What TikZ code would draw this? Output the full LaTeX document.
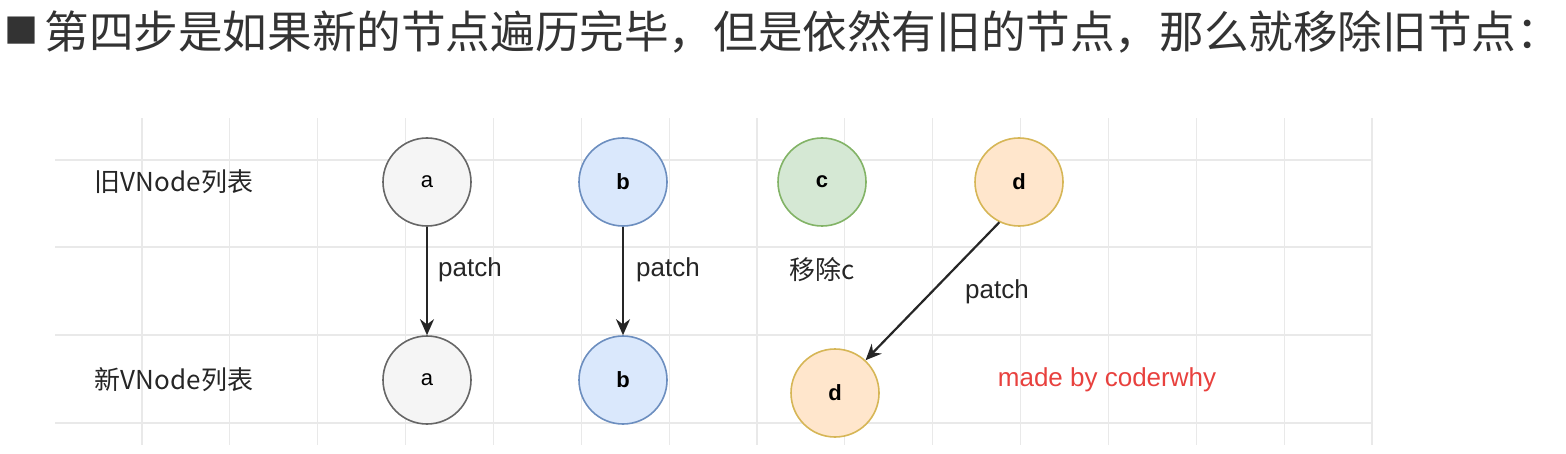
\documentclass[tikz,border=0pt]{standalone}
\usepackage{fontspec}
\setmainfont{Liberation Sans}
\newfontfamily\cjk{Noto Sans CJK SC}
\usetikzlibrary{arrows.meta}
\definecolor{gridgray}{HTML}{E9E9E9}
\definecolor{titlegray}{HTML}{333333}
\definecolor{afill}{HTML}{F5F5F5}
\definecolor{aline}{HTML}{666666}
\definecolor{bfill}{HTML}{DAE8FC}
\definecolor{bline}{HTML}{6C8EBF}
\definecolor{cfill}{HTML}{D5E8D4}
\definecolor{cline}{HTML}{82B366}
\definecolor{dfill}{HTML}{FFE6CC}
\definecolor{dline}{HTML}{D6B656}
\definecolor{signred}{HTML}{E8413E}

\begin{document}
\begin{tikzpicture}[x=0.5pt, y=-0.5pt,
    vnode/.style={circle, draw, line width=0.8pt, minimum size=44pt, inner sep=0pt, font=\fontsize{11}{13}\selectfont\bfseries},
    anode/.style={vnode, fill=afill, draw=aline, font=\fontsize{11}{13}\selectfont},
    bnode/.style={vnode, fill=bfill, draw=bline},
    cnode/.style={vnode, fill=cfill, draw=cline},
    dnode/.style={vnode, fill=dfill, draw=dline},
    lbl/.style={font=\fontsize{13}{15}\selectfont, text=black!85},
    patcharrow/.style={-{Stealth[length=8pt, width=7pt]}, line width=1.1pt, black!85}]
    \useasboundingbox (0,0) rectangle (1566,454);

    % Title
    \node[inner sep=0pt, text=titlegray, font=\cjk\fontsize{17}{18}\selectfont] (bullet) at (21,31) {■};
    \node[anchor=west, inner sep=0pt, text=titlegray, font=\cjk\fontsize{22.3}{24}\selectfont] (title) at (44,32)
        {第四步是如果新的节点遍历完毕，但是依然有旧的节点，那么就移除旧节点：};

    % Grid
    \foreach \y in {160,247,335,423}
        \draw[gridgray, line width=0.6pt] (55,\y) -- (1372,\y);
    \foreach \i in {0,...,14}
        \draw[gridgray, line width=0.6pt] (142+87.86*\i,118) -- (142+87.86*\i,445);

    % Row labels
    \node[lbl, font=\cjk\fontsize{13}{15}\selectfont] (oldlist) at (174,182) {旧VNode列表};
    \node[lbl, font=\cjk\fontsize{13}{15}\selectfont] (newlist) at (174,380) {新VNode列表};

    % Old VNodes
    \node[anode] (olda) at (427,182) {a};
    \node[bnode] (oldb) at (623,182) {b};
    \node[cnode] (oldc) at (822,182) {c};
    \node[dnode] (oldd) at (1019,182) {d};

    % New VNodes
    \node[anode] (newa) at (427,380) {a};
    \node[bnode] (newb) at (623,380) {b};
    \node[dnode] (newd) at (835,393) {d};

    % Patches
    \draw[patcharrow] (olda) -- (newa);
    \draw[patcharrow] (oldb) -- (newb);
    \draw[patcharrow] (oldd.244) -- (newd.47);

    \node[lbl] (patcha) at (470,270) {patch};
    \node[lbl] (patchb) at (668,270) {patch};
    \node[lbl, font=\cjk\fontsize{13}{15}\selectfont] (removec) at (822,270) {移除c};
    \node[lbl] (patchd) at (997,292) {patch};

    % Signature
    \node[lbl, text=signred] (sign) at (1107,380) {made by coderwhy};
\end{tikzpicture}
\end{document}
